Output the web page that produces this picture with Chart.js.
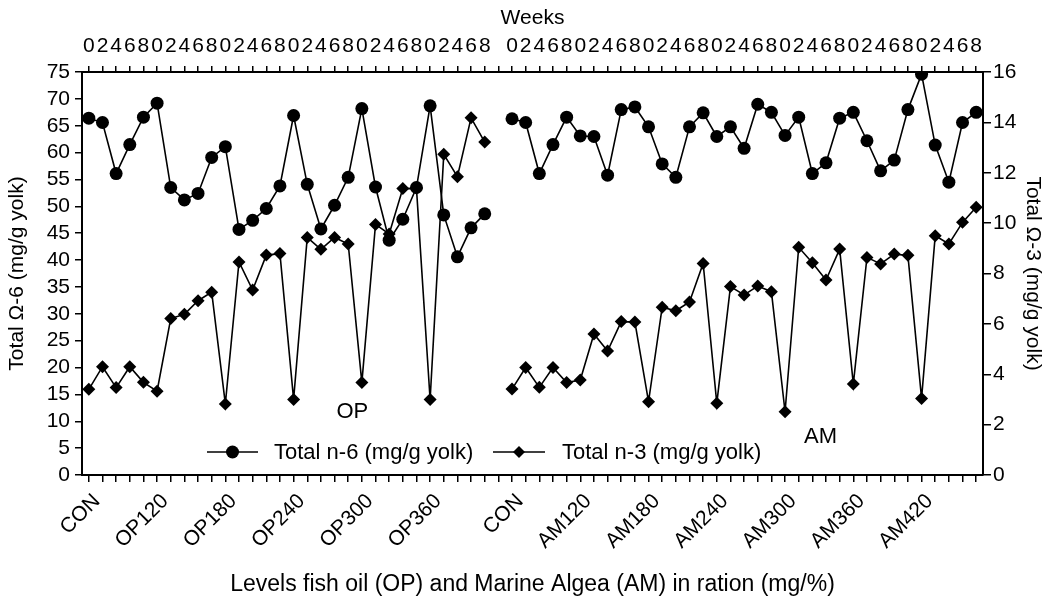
<!DOCTYPE html>
<html>
<head>
<meta charset="utf-8">
<script src="https://cdn.jsdelivr.net/npm/chart.js@4.4.1/dist/chart.umd.min.js"></script>
<style>
  body { margin: 0; background: #fff; }
  #wrap { width: 1046px; height: 607px; }
</style>
</head>
<body>
<div id="wrap"><canvas id="myChart"></canvas></div>
<script>
// groups of the x axis (bottom) and weeks (top)
const opGroups = ['CON', 'OP120', 'OP180', 'OP240', 'OP300', 'OP360'];
const amGroups = ['CON', 'AM120', 'AM180', 'AM240', 'AM300', 'AM360', 'AM420'];
const weeks = ['0', '2', '4', '6', '8'];

// total n-6 (left axis), OP part then AM part
const n6OP = [66.4, 65.6, 56.1, 61.5, 66.6, 69.2, 53.5, 51.2, 52.4, 59.1, 61.1, 45.7, 47.4, 49.6, 53.8,
    66.9, 54.1, 45.8, 50.2, 55.4, 68.2, 53.6, 43.7, 47.6, 53.5, 68.7, 48.4, 40.6, 46.0, 48.6];
const n6AM = [66.3, 65.6, 56.1, 61.5, 66.6, 63.1, 63.0, 55.8, 68.0, 68.5, 64.8, 57.9, 55.4, 64.8, 67.4,
    63.0, 64.8, 60.8, 69.0, 67.5, 63.2, 66.6, 56.1, 58.1, 66.4, 67.5, 62.2, 56.6, 58.6, 68.0, 74.6, 61.4, 54.5, 65.6, 67.5];

// total n-3 (right axis)
const n3OP = [3.40, 4.30, 3.47, 4.30, 3.68, 3.33, 6.21, 6.38, 6.92, 7.26, 2.82, 8.46, 7.34, 8.73, 8.79,
    3.00, 9.43, 8.96, 9.43, 9.17, 3.67, 9.95, 9.57, 11.37, 11.38, 3.00, 12.73, 11.84, 14.18, 13.22];
const n3AM = [3.41, 4.27, 3.48, 4.27, 3.67, 3.77, 5.60, 4.92, 6.09, 6.07, 2.91, 6.66, 6.52, 6.87, 8.40,
    2.85, 7.48, 7.15, 7.50, 7.28, 2.51, 9.04, 8.43, 7.74, 8.97, 3.61, 8.64, 8.38, 8.77, 8.72, 3.04, 9.50, 9.17, 10.03, 10.63];

// text labels inside the plot (x = category index, y = left axis value)
const notes = [
    { text: 'OP', x: 19.3, y: 11.7 },
    { text: 'AM', x: 53.6, y: 7.1 }
];

// build the 66 categories: OP groups, one empty slot, AM groups
let bottomLabels = [];
let topLabels = [];
opGroups.forEach(g => weeks.forEach((w, i) => { bottomLabels.push(i == 0 ? g : ''); topLabels.push(w); }));
bottomLabels.push(''); topLabels.push('');
amGroups.forEach(g => weeks.forEach((w, i) => { bottomLabels.push(i == 0 ? g : ''); topLabels.push(w); }));

const n6Data = n6OP.concat([null], n6AM);
const n3Data = n3OP.concat([null], n3AM);

const FONT = "'Liberation Sans', Arial, sans-serif";
Chart.defaults.font.family = FONT;
Chart.defaults.font.size = 20;
Chart.defaults.color = '#000';

// draws OP / AM texts and the legend inside the plot
const extras = {
    id: 'extras',
    afterDraw(chart) {
        const c = chart.ctx;
        const sx = chart.scales.x, sy = chart.scales.y;
        c.save();
        c.fillStyle = '#000';
        c.strokeStyle = '#000';
        c.font = '22px ' + FONT;
        c.textAlign = 'center';
        c.textBaseline = 'middle';
        notes.forEach(n => {
            c.fillText(n.text, sx.getPixelForValue(n.x), sy.getPixelForValue(n.y));
        });

        // legend
        const ly = 452;
        const items = [
            { x0: 207, x1: 258, text: 'Total n-6 (mg/g yolk)', tx: 274, shape: 'circle' },
            { x0: 493, x1: 545, text: 'Total n-3 (mg/g yolk)', tx: 562, shape: 'diamond' }
        ];
        c.textAlign = 'left';
        items.forEach(it => {
            c.lineWidth = 1.5;
            c.beginPath();
            c.moveTo(it.x0, ly);
            c.lineTo(it.x1, ly);
            c.stroke();
            const mx = (it.x0 + it.x1) / 2;
            c.beginPath();
            if (it.shape == 'circle') {
                c.arc(mx, ly, 6.5, 0, Math.PI * 2);
            } else {
                c.moveTo(mx, ly - 6); c.lineTo(mx + 6, ly); c.lineTo(mx, ly + 6); c.lineTo(mx - 6, ly); c.closePath();
            }
            c.fill();
            c.fillText(it.text, it.tx, ly + 1);
        });
        c.restore();
    }
};

const ctx = document.getElementById('myChart').getContext('2d');
const myChart = new Chart(ctx, {
    type: 'line',
    data: {
        labels: bottomLabels,
        datasets: [
        {
            label: 'Total n-6 (mg/g yolk)',
            data: n6Data,
            yAxisID: 'y',
            borderColor: '#000',
            backgroundColor: '#000',
            borderWidth: 1.6,
            pointStyle: 'circle',
            pointRadius: 6.5,
            pointBorderWidth: 0,
            spanGaps: false,
            tension: 0
        },
        {
            label: 'Total n-3 (mg/g yolk)',
            data: n3Data,
            yAxisID: 'y1',
            borderColor: '#000',
            backgroundColor: '#000',
            borderWidth: 1.6,
            pointStyle: 'rectRot',
            pointRadius: 6.5,
            pointBorderWidth: 0,
            spanGaps: false,
            tension: 0
        }
        ]
    },
    plugins: [extras],
    options: {
        responsive: true,
        maintainAspectRatio: false,
        animation: false,
        layout: { padding: 0 },
        plugins: {
            legend: { display: false },
            tooltip: { enabled: false }
        },
        scales: {
            x: {
                type: 'category',
                position: 'bottom',
                offset: true,
                grid: { display: true, drawOnChartArea: false, drawTicks: true, tickLength: 7, color: '#000', lineWidth: 1.5, offset: false },
                border: { display: true, color: '#000', width: 2 },
                ticks: { autoSkip: false, minRotation: 45, maxRotation: 45, padding: 7, labelOffset: 8, font: { size: 21 } },
                title: { display: true, text: 'Levels fish oil (OP) and Marine Algea (AM) in ration (mg/%)', font: { size: 23 }, padding: { top: 0, bottom: 9 } },
                afterFit(scale) { scale.height = 132; }
            },
            x2: {
                type: 'category',
                position: 'top',
                labels: topLabels,
                offset: true,
                grid: { display: true, drawOnChartArea: false, drawTicks: true, tickLength: 6, color: '#000', lineWidth: 1.5, offset: false },
                border: { display: true, color: '#000', width: 2 },
                ticks: { autoSkip: false, minRotation: 0, maxRotation: 0, padding: 7, font: { size: 21 } },
                title: { display: true, text: 'Weeks', font: { size: 21 }, padding: { top: 6, bottom: 0 } },
                afterFit(scale) { scale.height = 72; }
            },
            y: {
                position: 'left',
                min: 0,
                max: 75,
                grid: { display: true, drawOnChartArea: false, drawTicks: true, tickLength: 7, color: '#000', lineWidth: 1.5 },
                border: { display: true, color: '#000', width: 2 },
                ticks: { stepSize: 5, autoSkip: false, padding: 5, font: { size: 21 } },
                title: { display: true, text: 'Total Ω-6 (mg/g yolk)', font: { size: 21 }, padding: { top: 5, bottom: 0 } },
                afterFit(scale) { scale.width = 82; }
            },
            y1: {
                position: 'right',
                min: 0,
                max: 16,
                grid: { display: true, drawOnChartArea: false, drawTicks: true, tickLength: 8, color: '#000', lineWidth: 1.5 },
                border: { display: true, color: '#000', width: 2 },
                ticks: { stepSize: 2, autoSkip: false, padding: 2, font: { size: 21 } },
                title: { display: true, text: 'Total Ω-3 (mg/g yolk)', font: { size: 21 }, padding: { top: 1, bottom: 0 } },
                afterFit(scale) { scale.width = 63; }
            }
        }
    }
});
</script>
</body>
</html>
